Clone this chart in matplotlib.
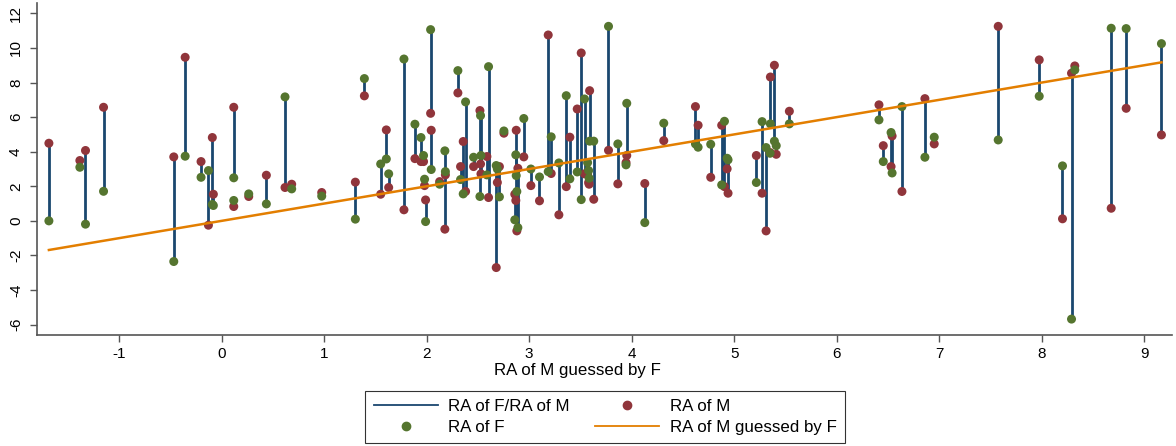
import matplotlib
matplotlib.use("Agg")
import matplotlib.pyplot as plt
from matplotlib.lines import Line2D
import numpy as np

# RA of M guessed by F (x), RA of M (red), RA of F (green)
guess = [-1.684, -1.382, -1.327, -1.151, -0.466, -0.355, -0.200, -0.128, -0.090, -0.080,
         0.119, 0.119, 0.265, 0.437, 0.619, 0.684, 0.977, 1.305, 1.393, 1.552,
         1.607, 1.630, 1.779, 1.886, 1.945, 1.970, 1.980, 1.990, 2.039, 2.045,
         2.127, 2.178, 2.183, 2.305, 2.331, 2.357, 2.380, 2.458, 2.520, 2.526,
         2.530, 2.588, 2.604, 2.679, 2.690, 2.710, 2.754, 2.860, 2.870, 2.874,
         2.880, 2.890, 2.948, 3.017, 3.101, 3.186, 3.215, 3.290, 3.362, 3.397,
         3.469, 3.508, 3.540, 3.570, 3.580, 3.585, 3.590, 3.630, 3.774, 3.865,
         3.945, 3.952, 4.128, 4.313, 4.622, 4.648, 4.771, 4.878, 4.905, 4.931,
         4.940, 5.216, 5.272, 5.311, 5.353, 5.392, 5.410, 5.350, 5.538, 6.412,
         6.454, 6.530, 6.540, 6.636, 6.860, 6.951, 7.575, 7.975, 8.202, 8.290,
         8.322, 8.677, 8.823, 9.167]
ra_m = [4.49, 3.49, 4.07, 6.57, 3.70, 9.46, 3.43, -0.25, 4.82, 1.54,
        6.57, 0.83, 1.41, 2.64, 1.93, 2.12, 1.64, 2.24, 7.23, 1.54,
        5.26, 1.93, 0.64, 3.60, 3.43, 3.43, 2.04, 1.21, 6.22, 5.24,
        2.27, -0.48, 2.66, 7.40, 3.14, 4.59, 1.70, 3.14, 6.38, 3.29,
        2.72, 3.72, 1.35, -2.70, 2.22, 3.14, 5.07, 1.54, 1.18, 5.24,
        -0.58, 3.04, 3.70, 2.04, 1.16, 10.75, 2.74, 0.35, 1.98, 4.84,
        6.47, 9.71, 2.72, 2.72, 2.22, 2.12, 7.53, 1.25, 4.08, 2.14,
        3.37, 3.78, 2.16, 4.64, 6.61, 5.53, 2.52, 5.53, 1.98, 3.01,
        1.60, 3.78, 1.60, -0.58, 8.32, 9.00, 3.85, 3.95, 6.34, 6.71,
        4.35, 3.14, 4.91, 1.70, 7.07, 4.45, 11.25, 9.31, 0.12, 8.54,
        8.96, 0.73, 6.51, 4.97]
ra_f = [0.00, 3.10, -0.19, 1.71, -2.35, 3.74, 2.52, 2.91, 0.95, 0.89,
        2.49, 1.18, 1.56, 0.98, 7.17, 1.85, 1.43, 0.10, 8.23, 3.29,
        3.58, 2.72, 9.36, 5.59, 4.82, 3.78, 2.41, -0.04, 11.06, 2.97,
        2.12, 4.05, 2.85, 8.69, 2.39, 1.56, 6.88, 3.68, 1.41, 6.09,
        3.78, 2.66, 8.92, 3.20, 3.00, 1.39, 5.20, 0.06, 3.82, 2.62,
        1.70, -0.39, 5.92, 3.00, 2.54, 2.85, 4.86, 3.35, 7.24, 2.43,
        2.83, 1.23, 7.05, 3.37, 2.91, 2.47, 4.61, 4.61, 11.25, 4.45,
        3.24, 6.80, -0.10, 5.65, 4.45, 4.26, 4.43, 2.08, 5.76, 3.62,
        3.53, 2.22, 5.74, 4.24, 5.61, 4.61, 4.35, 3.91, 5.61, 5.84,
        3.43, 5.11, 2.77, 6.61, 3.68, 4.84, 4.68, 7.21, 3.18, -5.68,
        8.73, 11.14, 11.12, 10.25]

x_ticks = [-1, 0, 1, 2, 3, 4, 5, 6, 7, 8, 9]
y_ticks = [-6, -4, -2, 0, 2, 4, 6, 8, 10, 12]

NAVY = "#1a476f"
MAROON = "#90353b"
GREEN = "#55752f"
ORANGE = "#e37e00"

plt.rcParams['font.family'] = ['Liberation Sans', 'DejaVu Sans']
plt.rcParams['axes.unicode_minus'] = False

fig = plt.figure(figsize=(11.76, 4.46), dpi=100)
ax = fig.add_axes([37/1176, 1 - 335/446, (1172 - 37)/1176, (335 - 3)/446])

ax.vlines(guess, ra_f, ra_m, color=NAVY, lw=2.0, zorder=1)
ax.scatter(guess, ra_m, s=42, color=MAROON, edgecolors='none', zorder=2)
ax.scatter(guess, ra_f, s=42, color=GREEN, edgecolors='none', zorder=3)
order = np.argsort(guess)
gs = np.array(guess)[order]
ax.plot(gs, gs, color=ORANGE, lw=1.8, zorder=4)

ax.set_xlim(-1.80, 9.27)
ax.set_ylim(-6.6, 12.6)
ax.set_xticks(x_ticks)
ax.set_yticks(y_ticks)
ax.tick_params(axis='both', labelsize=11, length=5, width=1, color='#555555')
ax.tick_params(axis='x', pad=4)
ax.tick_params(axis='y', pad=5)
for lab in ax.get_yticklabels():
    lab.set_rotation(90)
    lab.set_va('center')
for s in ['top', 'right']:
    ax.spines[s].set_visible(False)
for s in ['left', 'bottom']:
    ax.spines[s].set_color('#555555')
    ax.spines[s].set_linewidth(1.2)
ax.set_xlabel("RA of M guessed by F", fontsize=12.2)
ax.xaxis.set_label_coords((577 - 37) / 1135, -(371 - 335) / 332)
ax.xaxis.label.set_va('center')

handles = [Line2D([], [], color=NAVY, lw=1.3),
           Line2D([], [], color=GREEN, marker='o', ls='none', markersize=6),
           Line2D([], [], color=MAROON, marker='o', ls='none', markersize=6),
           Line2D([], [], color=ORANGE, lw=1.3)]
labels = ["RA of F/RA of M", "RA of F", "RA of M", "RA of M guessed by F"]
leg = fig.legend(handles, labels, loc='center', bbox_to_anchor=(0.5145, 0.065), ncol=2,
                 fontsize=12.2, frameon=True, fancybox=False, edgecolor='black',
                 handlelength=3.8, handletextpad=0.6, columnspacing=1.5,
                 labelspacing=0.35, borderpad=0.5, borderaxespad=0)
leg.get_frame().set_linewidth(0.8)

fig.savefig("out.png", dpi=100)
